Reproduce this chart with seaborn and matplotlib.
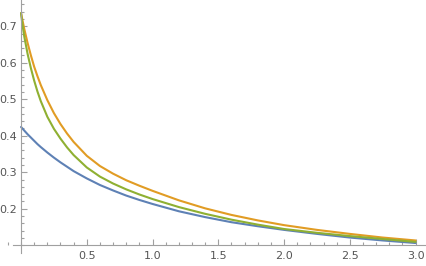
import matplotlib
matplotlib.use('Agg')

import matplotlib.pyplot as plt
import seaborn as sns
import pandas as pd
from matplotlib.ticker import MultipleLocator, FixedLocator

# values
x_vals = [0, 0.01, 0.025, 0.05, 0.075, 0.1, 0.125, 0.15, 0.2, 0.25, 0.3, 0.35,
          0.4, 0.5, 0.6, 0.7, 0.8, 0.9, 1.0, 1.2, 1.4, 1.6, 1.8, 2.0, 2.25,
          2.5, 2.75, 3.0]
blue = [0.424, 0.420, 0.414, 0.404, 0.395, 0.386, 0.377, 0.369, 0.354, 0.340,
        0.327, 0.315, 0.303, 0.283, 0.265, 0.250, 0.236, 0.224, 0.213, 0.193,
        0.177, 0.163, 0.152, 0.142, 0.131, 0.121, 0.113, 0.106]
orange = [0.736, 0.718, 0.692, 0.654, 0.620, 0.589, 0.563, 0.539, 0.4975, 0.462,
          0.432, 0.406, 0.383, 0.345, 0.317, 0.296, 0.278, 0.263, 0.249, 0.223,
          0.201, 0.183, 0.168, 0.155, 0.142, 0.131, 0.121, 0.113]
green = [0.736, 0.706, 0.671, 0.624, 0.585, 0.551, 0.521, 0.495, 0.452, 0.419,
         0.392, 0.368, 0.347, 0.313, 0.288, 0.269, 0.253, 0.239, 0.2265, 0.2045,
         0.186, 0.170, 0.1564, 0.1444, 0.134, 0.125, 0.117, 0.109]

names = ["blue", "orange", "green"]
colors = ["#5E81B5", "#E19C24", "#8FB032"]

rows = []
for name, ys in zip(names, [blue, orange, green]):
    for xv, yv in zip(x_vals, ys):
        rows.append({"x": xv, "y": yv, "curve": name})
df = pd.DataFrame(rows)

sns.set_style("white")
fig = plt.figure(figsize=(4.27, 2.66), dpi=100)
ax = fig.add_axes([0, 0, 1, 1])

sns.lineplot(data=df, x="x", y="y", hue="curve", hue_order=names,
             palette=colors, linewidth=1.5, legend=False, ax=ax)

ax.set_xlim(-0.160, 3.087)
ax.set_ylim(0.043, 0.772)

# Mathematica style axes crossing at (0, 0.1)
axis_col = "#A0A0A0"
ax.spines["top"].set_visible(False)
ax.spines["right"].set_visible(False)
ax.spines["left"].set_position(("data", 0))
ax.spines["bottom"].set_position(("data", 0.1))
ax.spines["left"].set_bounds(0.0786, 0.772)
ax.spines["bottom"].set_bounds(-0.063, 3.087)
for s in ["left", "bottom"]:
    ax.spines[s].set_color(axis_col)
    ax.spines[s].set_linewidth(0.8)

ax.xaxis.set_major_locator(FixedLocator([0.5, 1.0, 1.5, 2.0, 2.5, 3.0]))
ax.xaxis.set_minor_locator(MultipleLocator(0.1))
ax.yaxis.set_major_locator(FixedLocator([0.2, 0.3, 0.4, 0.5, 0.6, 0.7]))
ax.yaxis.set_minor_locator(FixedLocator([0.1 + 0.02 * i for i in range(34)]))

ax.tick_params(which="both", direction="in", color=axis_col, width=0.8,
               bottom=True, left=True, labelsize=8, labelcolor="#555555")
ax.tick_params(which="major", length=4)
ax.tick_params(which="minor", length=2.2)
ax.tick_params(axis="x", pad=4)
ax.tick_params(axis="y", pad=3)
ax.xaxis.set_major_formatter(plt.FuncFormatter(lambda v, p: f"{v:.1f}"))
ax.yaxis.set_major_formatter(plt.FuncFormatter(lambda v, p: f"{v:.1f}"))
ax.set_xlabel("")
ax.set_ylabel("")

fig.savefig("out.png", dpi=100)
plt.close(fig)
